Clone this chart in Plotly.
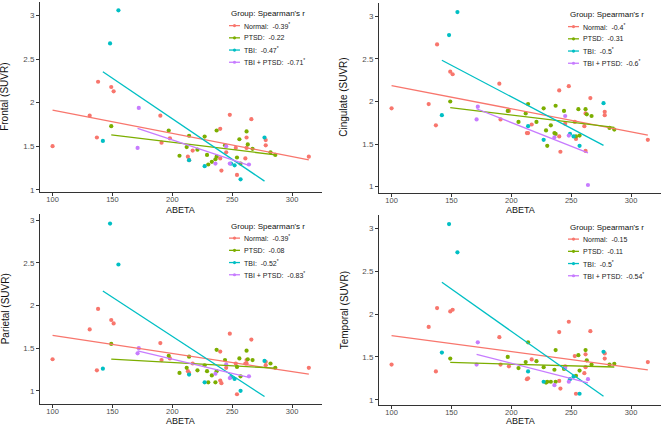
import numpy as np
import plotly.graph_objects as go

# ---------------- data ----------------
groups = ["Normal", "PTSD", "TBI", "TBI + PTSD"]
group_colors = ["#F8766D", "#7CAE00", "#00BFC4", "#C77CFF"]

abeta_normal = [100, 131, 137, 138, 149, 151, 190, 191, 198, 213, 214, 217, 240, 240, 241,
                245, 248, 253, 254, 261, 262, 262, 266, 278, 278, 314]
abeta_ptsd = [149, 197, 206, 212, 214, 221, 227, 229, 230, 233, 237, 236, 237, 244, 254,
              256, 257, 262, 263, 267, 282, 286]
abeta_tbi = [142, 148, 155, 214, 227, 249, 252, 257, 277]
abeta_tbiptsd = [171, 172, 236, 245, 248, 264]

frontal_normal = [1.50, 1.85, 1.60, 2.24, 2.18, 2.13, 1.85, 1.54, 1.59, 1.38, 1.34, 1.45, 1.70,
                  1.36, 1.22, 1.43, 1.86, 1.48, 1.17, 1.36, 1.60, 1.48, 1.81, 1.57, 1.51, 1.38]
frontal_ptsd = [1.73, 1.68, 1.39, 1.49, 1.62, 1.46, 1.61, 1.40, 1.29, 1.32, 1.68, 1.35, 1.38,
                1.51, 1.37, 1.58, 1.30, 1.67, 1.52, 1.47, 1.43, 1.40]
frontal_tbi = [1.56, 2.68, 3.06, 1.34, 1.27, 1.30, 1.28, 1.12, 1.60]
frontal_tbiptsd = [1.48, 1.94, 1.30, 1.50, 1.30, 1.29]

cingulate_normal = [1.92, 1.97, 1.72, 2.67, 2.35, 2.32, 2.21, 1.79, 1.89, 1.63, 1.63, 1.73, 2.13,
                    1.59, 1.41, 1.74, 2.18, 1.76, 1.56, 1.71, 1.86, 1.42, 2.04, 1.88, 1.84, 1.55]
cingulate_ptsd = [2.00, 1.89, 1.76, 1.86, 1.97, 1.76, 1.92, 1.66, 1.48, 1.72, 1.95, 1.63, 1.62,
                  1.89, 1.59, 1.91, 1.60, 1.91, 1.85, 1.83, 1.69, 1.67]
cingulate_tbi = [1.84, 2.78, 3.05, 1.71, 1.55, 1.62, 1.59, 1.48, 1.98]
cingulate_tbiptsd = [1.79, 1.94, 1.58, 1.83, 1.60, 1.02]

parietal_normal = [1.37, 1.72, 1.24, 1.96, 1.83, 1.79, 1.56, 1.36, 1.38, 1.23, 1.21, 1.32, 1.46,
                   1.12, 1.09, 1.27, 1.67, 1.32, 0.96, 1.32, 1.36, 1.32, 1.60, 1.34, 1.30, 1.27]
parietal_ptsd = [1.55, 1.41, 1.21, 1.27, 1.40, 1.24, 1.30, 1.23, 1.10, 1.18, 1.48, 1.10, 1.23,
                 1.36, 1.28, 1.38, 1.17, 1.47, 1.37, 1.36, 1.32, 1.27]
parietal_tbi = [1.26, 2.96, 2.48, 1.19, 1.10, 1.16, 1.14, 1.00, 1.35]
parietal_tbiptsd = [1.44, 1.50, 1.20, 1.31, 1.15, 1.17]

temporal_normal = [1.41, 1.85, 1.33, 2.07, 2.03, 2.05, 1.73, 1.41, 1.39, 1.24, 1.25, 1.47, 1.79,
                   1.22, 1.13, 1.39, 1.91, 1.51, 1.07, 1.31, 1.53, 1.38, 1.80, 1.54, 1.48, 1.44]
temporal_ptsd = [1.48, 1.50, 1.37, 1.44, 1.67, 1.45, 1.38, 1.20, 1.21, 1.21, 1.58, 1.35, 1.21,
                 1.36, 1.28, 1.52, 1.34, 1.58, 1.46, 1.41, 1.41, 1.42]
temporal_tbi = [1.55, 3.05, 2.72, 1.33, 1.21, 1.24, 1.27, 1.07, 1.56]
temporal_tbiptsd = [1.41, 1.67, 1.17, 1.37, 1.21, 1.24]

region_names = ["Frontal", "Cingulate", "Parietal", "Temporal"]
spearman_frontal = ["-0.39", "-0.22", "-0.47", "-0.71"]
spearman_cingulate = ["-0.4", "-0.31", "-0.5", "-0.6"]
spearman_parietal = ["-0.39", "-0.08", "-0.52", "-0.83"]
spearman_temporal = ["-0.15", "-0.11", "-0.5", "-0.54"]
signif_frontal = [True, False, True, True]
signif_cingulate = [True, False, True, True]
signif_parietal = [True, False, True, True]
signif_temporal = [False, False, True, True]

x_ticks = [100, 150, 200, 250, 300]
y_ticks = [1, 1.5, 2, 2.5, 3]
x_title = "ABETA"
legend_title = "Group: Spearman's r"

# ---------------- layout helpers ----------------
W, H = 663, 428
abetas = [abeta_normal, abeta_ptsd, abeta_tbi, abeta_tbiptsd]
region_values = [
    [frontal_normal, frontal_ptsd, frontal_tbi, frontal_tbiptsd],
    [cingulate_normal, cingulate_ptsd, cingulate_tbi, cingulate_tbiptsd],
    [parietal_normal, parietal_ptsd, parietal_tbi, parietal_tbiptsd],
    [temporal_normal, temporal_ptsd, temporal_tbi, temporal_tbiptsd],
]
region_r = [spearman_frontal, spearman_cingulate, spearman_parietal, spearman_temporal]
region_sig = [signif_frontal, signif_cingulate, signif_parietal, signif_temporal]

# panel pixel boxes: left, right, top, bottom
boxes = [(40, 322, 2, 193), (379, 661, 3, 194), (40, 322, 216, 407), (379, 661, 217, 408)]
y_ranges = [[0.978, 3.156], [0.93, 3.157], [0.844, 3.066], [0.937, 3.15]]
x_range = [89.5, 325]
x_title_y = [211, 211, 423.5, 423.5]

FONT = "Liberation Sans, Arial, sans-serif"

def px(x):
    return x / W

def py(y):
    return 1 - y / H

fig = go.Figure()
layout = dict(
    width=W, height=H, margin=dict(l=0, r=0, t=0, b=0),
    paper_bgcolor="white", plot_bgcolor="white", showlegend=False,
    font=dict(family=FONT, color="#333333"),
)
shapes = []
annotations = []

for i, name in enumerate(region_names):
    sfx = "" if i == 0 else str(i + 1)
    xa, ya = "x" + sfx, "y" + sfx
    l, r, t, b = boxes[i]
    layout["xaxis" + sfx] = dict(
        domain=[px(l), px(r)], anchor=ya, range=x_range, tickvals=x_ticks,
        showline=True, linecolor="#333333", linewidth=1, ticks="outside", ticklen=3,
        tickcolor="#333333", tickfont=dict(size=7.5, color="#4D4D4D"), showgrid=False,
        zeroline=False, ticklabelstandoff=-3,
    )
    layout["yaxis" + sfx] = dict(
        domain=[py(b), py(t)], anchor=xa, range=y_ranges[i], tickvals=y_ticks,
        showline=True, linecolor="#333333", linewidth=1, ticks="outside", ticklen=3,
        tickcolor="#333333", tickfont=dict(size=8, color="#4D4D4D"), showgrid=False,
        zeroline=False,
    )
    # axis titles
    annotations.append(dict(x=px((l + r) / 2), y=py(x_title_y[i]), xref="paper", yref="paper",
                            text=x_title, showarrow=False, xanchor="center", yanchor="middle",
                            font=dict(size=9, color="#111111", family=FONT)))
    annotations.append(dict(x=px(l - 35), y=py((t + b) / 2), xref="paper", yref="paper",
                            text=name + " (SUVR)", showarrow=False, textangle=-90,
                            xanchor="center", yanchor="middle",
                            font=dict(size=10, color="#111111", family=FONT)))
    # points
    for g, col, xs, ys in zip(groups, group_colors, abetas, region_values[i]):
        fig.add_trace(go.Scatter(x=xs, y=ys, mode="markers", xaxis=xa, yaxis=ya,
                                 marker=dict(color=col, size=4.2), name=g, hoverinfo="x+y"))
    # linear fits
    for g, col, xs, ys in zip(groups, group_colors, abetas, region_values[i]):
        slope, icpt = np.polyfit(xs, ys, 1)
        xl = np.array([min(xs), max(xs)])
        fig.add_trace(go.Scatter(x=xl, y=slope * xl + icpt, mode="lines", xaxis=xa, yaxis=ya,
                                 line=dict(color=col, width=1.3), name=g + " fit"))
    # legend (drawn manually)
    lx = 229 if i % 2 == 0 else 568
    ty = t + 12
    annotations.append(dict(x=px(lx), y=py(ty), xref="paper", yref="paper", text=legend_title,
                            showarrow=False, xanchor="left", yanchor="middle",
                            font=dict(size=8, color="#111111", family=FONT)))
    for k, (g, col, rv, sg) in enumerate(zip(groups, group_colors, region_r[i], region_sig[i])):
        ry = ty + 11.8 + 12.3 * k
        shapes.append(dict(type="line", xref="paper", yref="paper", x0=px(lx), x1=px(lx + 11),
                           y0=py(ry), y1=py(ry), line=dict(color=col, width=1.3)))
        shapes.append(dict(type="circle", xref="paper", yref="paper", xsizemode="pixel",
                           ysizemode="pixel", xanchor=px(lx + 5.5), yanchor=py(ry),
                           x0=-1.6, x1=1.6, y0=-1.6, y1=1.6, fillcolor=col, line=dict(width=0)))
        txt = g + ":\u00a0\u00a0" + rv + ("<sup>*</sup>" if sg else "")
        annotations.append(dict(x=px(lx + 13), y=py(ry), xref="paper", yref="paper", text=txt,
                                showarrow=False, xanchor="left", yanchor="middle",
                                font=dict(size=7, color="#222222", family=FONT)))

layout["shapes"] = shapes
layout["annotations"] = annotations
fig.update_layout(**layout)
fig.write_html(
    "out.html",
    config={"displayModeBar": False},
    post_script="document.body.style.margin='0';document.body.style.overflow='hidden';",
)
